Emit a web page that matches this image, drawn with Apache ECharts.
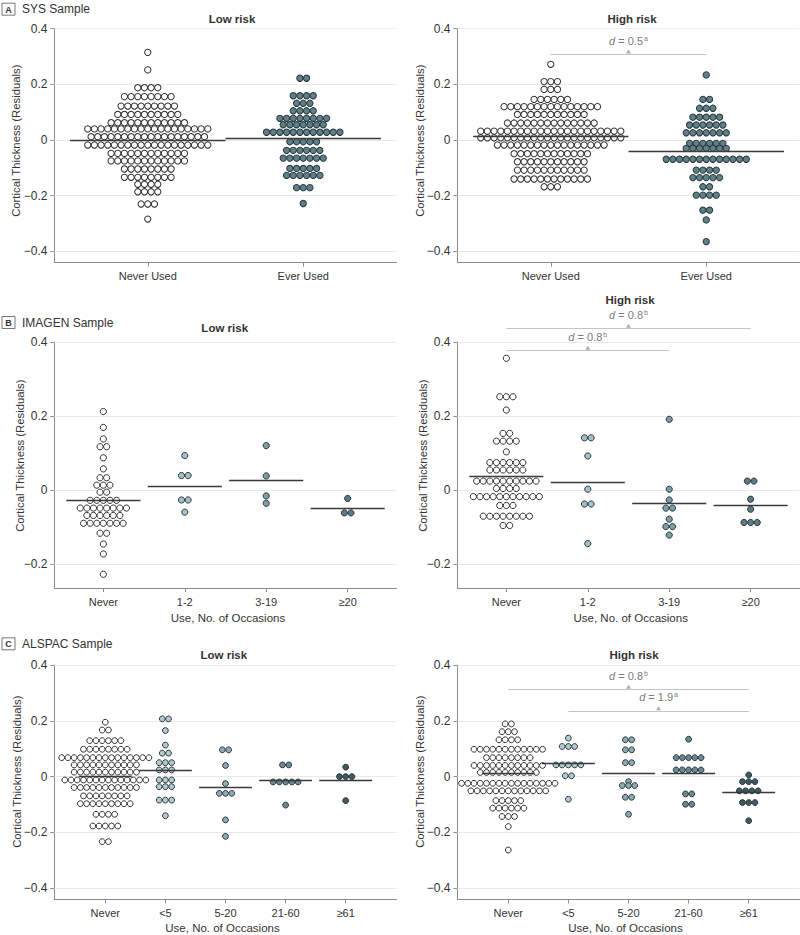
<!DOCTYPE html>
<html>
<head>
<meta charset="utf-8">
<script src="https://cdn.jsdelivr.net/npm/echarts@6/dist/echarts.min.js"></script>
<style>html,body{margin:0;padding:0;background:#fff}#c{width:800px;height:935px}</style>
</head>
<body>
<div id="c"></div>
<script>
// ---------- categories & tick labels ----------
const sysCats = ['Never Used', 'Ever Used'];
const imagenCats = ['Never', '1-2', '3-19', '≥20'];
const alspacCats = ['Never', '<5', '5-20', '21-60', '≥61'];
const yTicksWide = [-0.4, -0.2, 0, 0.2, 0.4];
const yTicksImagen = [-0.2, 0, 0.2, 0.4];
const panelLetters = ['A', 'B', 'C'];
const sampleNames = ['SYS Sample', 'IMAGEN Sample', 'ALSPAC Sample'];
const riskTitles = ['Low risk', 'High risk'];
const yName = 'Cortical Thickness (Residuals)';
const xName = 'Use, No. of Occasions';

// ---------- data: [residual, number of participants at that level] ----------
// SYS, low risk
const sysLowNever = [[0.315,1],[0.252,1],[0.188,4],[0.156,8],[0.122,9],[0.092,10],[0.062,12],[0.040,19],[0.012,18],[-0.018,19],[-0.048,12],[-0.075,12],[-0.104,8],[-0.134,8],[-0.159,4],[-0.186,4],[-0.230,3],[-0.284,1]];
const sysLowEver = [[0.222,2],[0.159,4],[0.132,3],[0.105,4],[0.078,8],[0.055,7],[0.028,12],[-0.006,5],[-0.037,6],[-0.065,7],[-0.102,5],[-0.127,6],[-0.171,3],[-0.228,1]];
const sysLowMeans = [0.000, 0.008];
// SYS, high risk
const sysHighNever = [[0.272,1],[0.210,3],[0.182,3],[0.146,6],[0.120,15],[0.092,11],[0.061,14],[0.032,22],[0.008,22],[-0.018,17],[-0.049,12],[-0.078,11],[-0.108,11],[-0.140,12],[-0.168,3]];
const sysHighEver = [[0.234,1],[0.146,2],[0.114,3],[0.082,5],[0.054,6],[0.026,7],[-0.012,6],[-0.030,7],[-0.069,13],[-0.108,4],[-0.135,5],[-0.168,2],[-0.198,4],[-0.252,2],[-0.287,1],[-0.365,1]];
const sysHighMeans = [0.012, -0.042];
const sysHighEffects = [{from:1, to:2, level:0.309, d:'0.5', sig:'a'}];
// IMAGEN, low risk
const imgLowNever = [[0.212,1],[0.169,1],[0.138,1],[0.117,2],[0.087,1],[0.057,1],[0.033,2],[0.013,3],[-0.006,2],[-0.028,5],[-0.049,8],[-0.069,6],[-0.090,7],[-0.117,2],[-0.146,1],[-0.173,1],[-0.228,1]];
const imgLow12 = [[0.093,1],[0.039,2],[-0.027,2],[-0.060,1]];
const imgLow319 = [[0.120,1],[0.038,1],[-0.016,1],[-0.036,1]];
const imgLow20 = [[-0.023,1],[-0.062,2]];
const imgLowMeans = [-0.028, 0.009, 0.025, -0.049];
// IMAGEN, high risk
const imgHighNever = [[0.356,1],[0.252,3],[0.216,1],[0.153,2],[0.132,4],[0.103,1],[0.074,6],[0.054,6],[0.024,10],[0.004,4],[-0.018,11],[-0.042,3],[-0.071,8],[-0.096,2]];
const imgHigh12 = [[0.141,2],[0.092,1],[0.002,1],[-0.038,2],[-0.145,1]];
const imgHigh319 = [[0.191,1],[0.002,1],[-0.027,1],[-0.049,2],[-0.079,1],[-0.099,2],[-0.122,1]];
const imgHigh20 = [[0.024,2],[-0.025,1],[-0.052,1],[-0.088,3]];
const imgHighMeans = [0.036, 0.022, -0.036, -0.042];
const imgHighEffects = [{from:1, to:4, level:0.437, d:'0.8', sig:'b'}, {from:1, to:3, level:0.378, d:'0.8', sig:'b'}];
// ALSPAC, low risk
const alsLowNever = [[0.195,1],[0.167,2],[0.129,6],[0.098,8],[0.068,15],[0.042,11],[0.016,11],[-0.012,14],[-0.039,11],[-0.069,8],[-0.097,9],[-0.135,4],[-0.177,5],[-0.233,2]];
const alsLowLt5 = [[0.207,2],[0.165,1],[0.113,1],[0.084,2],[0.050,3],[0.024,3],[-0.012,3],[-0.036,3],[-0.084,3],[-0.140,1]];
const alsLow520 = [[0.096,2],[0.040,1],[-0.025,1],[-0.060,3],[-0.155,1],[-0.214,1]];
const alsLow2160 = [[0.042,2],[-0.019,5],[-0.102,1]];
const alsLow61 = [[0.034,1],[0.000,3],[-0.086,1]];
const alsLowMeans = [0.000, 0.024, -0.038, -0.014, -0.012];
// ALSPAC, high risk
const alsHighNever = [[0.189,2],[0.161,3],[0.132,4],[0.098,12],[0.068,8],[0.040,12],[0.015,10],[-0.024,16],[-0.051,13],[-0.086,5],[-0.113,6],[-0.143,3],[-0.179,1],[-0.263,1]];
const alsHighLt5 = [[0.138,1],[0.108,3],[0.042,5],[0.003,2],[-0.081,1]];
const alsHigh520 = [[0.132,2],[0.096,2],[0.050,2],[-0.018,1],[-0.032,3],[-0.074,2],[-0.135,1]];
const alsHigh2160 = [[0.134,1],[0.068,5],[0.024,5],[-0.062,2],[-0.099,2]];
const alsHigh61 = [[0.006,1],[-0.018,3],[-0.051,4],[-0.093,3],[-0.158,1]];
const alsHighMeans = [0.012, 0.048, 0.012, 0.012, -0.057];
const alsHighEffects = [{from:1, to:5, level:0.313, d:'0.8', sig:'b'}, {from:2, to:5, level:0.236, d:'1.9', sig:'a'}];

// ---------- styling ----------
const FONT = "'Liberation Sans Narrow', 'Liberation Sans', Arial, sans-serif";
const NEVER = '#ffffff';
const sysColors = [NEVER, '#5f8089'];
const imgColors = [NEVER, '#a7c0c7', '#7e9ca5', '#5d7b84'];
const alsColors = [NEVER, '#b5cad0', '#8faab2', '#6b8891', '#3f5961'];

const panels = [
  {grid:{left:54.5, top:28.7, width:342, height:233.8}, x:[0.4,2.6], y:[-0.44,0.4], yt:yTicksWide, cats:sysCats, groups:[sysLowNever, sysLowEver], colors:sysColors, means:sysLowMeans, half:0.5, gap:6.67, size:6.3, effects:[]},
  {grid:{left:457.5, top:28.7, width:342, height:233.8}, x:[0.4,2.6], y:[-0.44,0.4], yt:yTicksWide, cats:sysCats, groups:[sysHighNever, sysHighEver], colors:sysColors, means:sysHighMeans, half:0.5, gap:6.67, size:6.3, effects:sysHighEffects},
  {grid:{left:54.5, top:342, width:342, height:246}, x:[0.4,4.6], y:[-0.265,0.4], yt:yTicksImagen, cats:imagenCats, groups:[imgLowNever, imgLow12, imgLow319, imgLow20], colors:imgColors, means:imgLowMeans, half:0.455, gap:6.6, size:6.2, effects:[]},
  {grid:{left:457.5, top:342, width:342, height:246}, x:[0.4,4.6], y:[-0.265,0.4], yt:yTicksImagen, cats:imagenCats, groups:[imgHighNever, imgHigh12, imgHigh319, imgHigh20], colors:imgColors, means:imgHighMeans, half:0.455, gap:6.6, size:6.2, effects:imgHighEffects},
  {grid:{left:54.5, top:665, width:342, height:234.4}, x:[0.155,5.845], y:[-0.44,0.4], yt:yTicksWide, cats:alspacCats, groups:[alsLowNever, alsLowLt5, alsLow520, alsLow2160, alsLow61], colors:alsColors, means:alsLowMeans, half:0.44, gap:6.23, size:5.8, effects:[]},
  {grid:{left:457.5, top:665, width:342, height:234.4}, x:[0.155,5.845], y:[-0.44,0.4], yt:yTicksWide, cats:alspacCats, groups:[alsHighNever, alsHighLt5, alsHigh520, alsHigh2160, alsHigh61], colors:alsColors, means:alsHighMeans, half:0.44, gap:6.23, size:5.8, effects:alsHighEffects}
];

function swarm(rows, cat, gap) {
  const out = [];
  rows.forEach(([v, n]) => {
    for (let j = 0; j < n; j++) out.push({value:[cat, v], symbolOffset:[(j - (n - 1) / 2) * gap, 0]});
  });
  return out;
}
function fmtY(v) {
  if (Math.abs(v) < 1e-9) return '0';
  return (v < 0 ? '\u2212' : '') + Math.abs(v).toFixed(1);
}

const grids = [], xAxes = [], yAxes = [], series = [];
panels.forEach((p, i) => {
  grids.push(Object.assign({outerBoundsMode:'none', containLabel:false}, p.grid));
  const catIdx = p.cats.map((c, k) => k + 1);
  xAxes.push({
    gridIndex:i, type:'value', min:p.x[0], max:p.x[1],
    axisLine:{show:true, onZero:false, lineStyle:{color:'#8c8c8c', width:1}},
    axisTick:{show:true, customValues:catIdx, length:4, lineStyle:{color:'#8c8c8c'}},
    axisLabel:{show:true, customValues:catIdx, formatter:v => p.cats[Math.round(v) - 1] || '', fontFamily:FONT, fontSize:11, color:'#333', margin:8},
    splitLine:{show:false}
  });
  yAxes.push({
    gridIndex:i, type:'value', min:p.y[0], max:p.y[1],
    axisLine:{show:true, onZero:false, lineStyle:{color:'#8c8c8c', width:1}},
    axisTick:{show:true, customValues:p.yt, length:4, lineStyle:{color:'#8c8c8c'}},
    axisLabel:{show:true, customValues:p.yt, formatter:fmtY, fontFamily:FONT, fontSize:12, color:'#333', margin:7},
    splitLine:{show:false}
  });
  // horizontal grid lines at the tick values
  series.push({
    type:'lines', coordinateSystem:'cartesian2d', xAxisIndex:i, yAxisIndex:i, silent:true, z:1,
    lineStyle:{color:'#e9e9e9', width:1, opacity:1},
    data:p.yt.map(t => ({coords:[[p.x[0], t], [p.x[1], t]]}))
  });
  // dots
  p.groups.forEach((rows, g) => {
    series.push({
      type:'scatter', xAxisIndex:i, yAxisIndex:i, silent:true, z:3, clip:false,
      symbol:'circle', symbolSize:p.size,
      itemStyle:{color:p.colors[g], borderColor:g === 0 ? '#2f2f2f' : '#27363b', borderWidth:1, opacity:1},
      data:swarm(rows, g + 1, p.gap)
    });
  });
  // group means
  series.push({
    type:'lines', coordinateSystem:'cartesian2d', xAxisIndex:i, yAxisIndex:i, silent:true, z:5,
    lineStyle:{color:'#3a3a3a', width:1.3, opacity:1},
    data:p.means.map((m, g) => ({coords:[[g + 1 - p.half, m], [g + 1 + p.half, m]]}))
  });
  // effect-size brackets
  if (p.effects.length) {
    series.push({
      type:'lines', coordinateSystem:'cartesian2d', xAxisIndex:i, yAxisIndex:i, silent:true, z:2, clip:false,
      lineStyle:{color:'#c4c4c4', width:1, opacity:1},
      data:p.effects.map(e => ({coords:[[e.from, e.level], [e.to, e.level]]}))
    });
    series.push({
      type:'scatter', xAxisIndex:i, yAxisIndex:i, silent:true, z:2, clip:false,
      symbol:'triangle', symbolSize:[5, 4], symbolOffset:[0, -2.5],
      itemStyle:{color:'#9a9a9a'},
      label:{show:true, position:'top', distance:3, fontFamily:FONT, fontSize:11, color:'#555',
        formatter:prm => '{i|d} = ' + prm.data.d + '{s|' + prm.data.sig + '}',
        rich:{i:{fontStyle:'italic', fontFamily:FONT, fontSize:11, color:'#555'},
              s:{fontSize:7, fontFamily:FONT, color:'#555', verticalAlign:'top', padding:[0,0,5,1]}}},
      data:p.effects.map(e => ({value:[(e.from + e.to) / 2, e.level], d:e.d, sig:e.sig}))
    });
  }
});

// ---------- free text ----------
const g = [];
function txt(t, x, y, o) {
  o = o || {};
  g.push({type:'text', x:x, y:y, rotation:o.rot || 0, silent:true, z:10,
    style:{text:t, x:0, y:0, fill:o.color || '#333', fontFamily:FONT, fontSize:o.size || 11,
      fontWeight:o.bold ? 'bold' : 'normal', align:o.align || 'center', verticalAlign:'middle'}});
}
const letterY = [9.2, 322.5, 643.8];
panelLetters.forEach((L, k) => {
  g.push({type:'rect', silent:true, z:10, shape:{x:2, y:letterY[k] - 6, width:13, height:12},
    style:{fill:'#fff', stroke:'#555', lineWidth:0.8}});
  txt(L, 8.5, letterY[k] + 0.3, {size:9, bold:true});
  txt(sampleNames[k], 22, letterY[k], {size:12, align:'left'});
});
txt(riskTitles[0], 232, 19, {bold:true, size:11.5});
txt(riskTitles[1], 632, 19, {bold:true, size:11.5});
txt(riskTitles[0], 224.7, 328, {bold:true, size:11.5});
txt(riskTitles[1], 630, 300, {bold:true, size:11.5});
txt(riskTitles[0], 223.8, 655, {bold:true, size:11.5});
txt(riskTitles[1], 634, 655, {bold:true, size:11.5});
[[15.5,140.7],[419.5,140.7],[19.5,455.7],[423,455.7],[16.5,771.7],[420,771.7]].forEach(([x, y]) =>
  txt(yName, x, y, {rot:Math.PI / 2, size:11.3}));
[[228,618.3],[630.7,618.3],[222.5,928.3],[625.5,928.3]].forEach(([x, y]) => txt(xName, x, y, {size:11.5}));

const chart = echarts.init(document.getElementById('c'), null, {renderer:'svg'});
chart.setOption({
  animation:false,
  backgroundColor:'#fff',
  grid:grids, xAxis:xAxes, yAxis:yAxes, series:series, graphic:g
});
</script>
</body>
</html>
